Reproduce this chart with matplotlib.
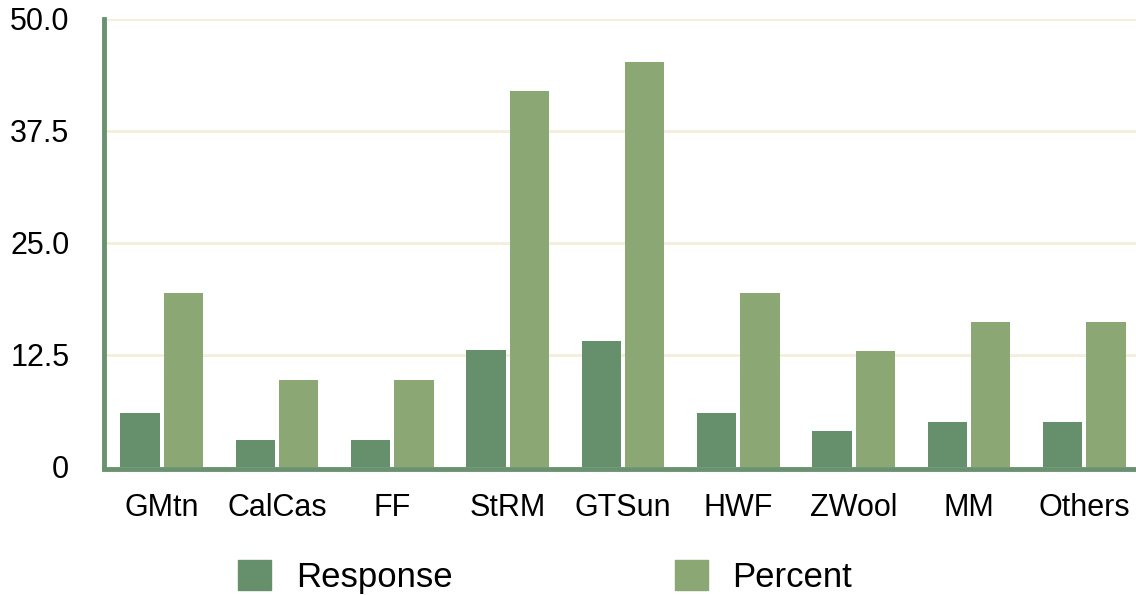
import matplotlib.pyplot as plt
import numpy as np
from matplotlib.patches import Patch

plt.rcParams['font.family'] = ['Liberation Sans', 'DejaVu Sans']

# Data
categories = ['GMtn', 'CalCas', 'FF', 'StRM', 'GTSun', 'HWF', 'ZWool', 'MM', 'Others']
response = [6, 3, 3, 13, 14, 6, 4, 5, 5]
percent = [19.4, 9.7, 9.7, 41.9, 45.2, 19.4, 12.9, 16.1, 16.1]
y_ticks = [0, 12.5, 25.0, 37.5, 50.0]
y_tick_labels = ['0', '12.5', '25.0', '37.5', '50.0']

dark_green = '#668f6c'
light_green = '#8ba874'
axis_green = '#6a9270'
grid_cream = '#f5eedb'

W, H = 1136, 595
fig = plt.figure(figsize=(W / 100, H / 100), dpi=100)
# axes spans x 104..1142 px, y 18.7..466.7 px
ax = fig.add_axes([104 / W, 1 - 466.7 / H, 1038 / W, 448 / H])

x = np.arange(len(categories))
bw = 0.34
gap = 0.035
ax.bar(x - gap / 2 - bw / 2, response, width=bw, color=dark_green, zorder=3)
ax.bar(x + gap / 2 + bw / 2, percent, width=bw, color=light_green, zorder=3)

ax.set_xlim(-0.5, len(categories) - 0.5)
ax.set_ylim(0, 50)
ax.set_yticks(y_ticks)
ax.set_yticklabels(y_tick_labels)
ax.set_xticks(x)
ax.set_xticklabels(categories)
ax.tick_params(axis='both', length=0, labelsize=22, colors='black')
ax.tick_params(axis='y', pad=25)
ax.tick_params(axis='x', pad=17)

for yv in y_ticks[1:]:
    ax.axhline(yv, color=grid_cream, linewidth=2, zorder=1)

for side in ['top', 'right']:
    ax.spines[side].set_visible(False)
ax.spines['left'].set_color(axis_green)
ax.spines['left'].set_linewidth(3.5)
ax.spines['bottom'].set_color(axis_green)
ax.spines['bottom'].set_linewidth(3.5)
ax.spines['bottom'].set_zorder(4)
ax.spines['bottom'].set_position(('data', -0.25))

handles = [Patch(color=dark_green, label='Response'),
           Patch(color=light_green, label='Percent')]
fig.legend(handles=handles, loc='center', bbox_to_anchor=(545 / W, 1 - 577 / H),
           ncol=2, frameon=False, fontsize=25, handlelength=0.95, handleheight=0.95,
           handletextpad=0.72, columnspacing=6.4)

fig.savefig('out.png', dpi=100)
